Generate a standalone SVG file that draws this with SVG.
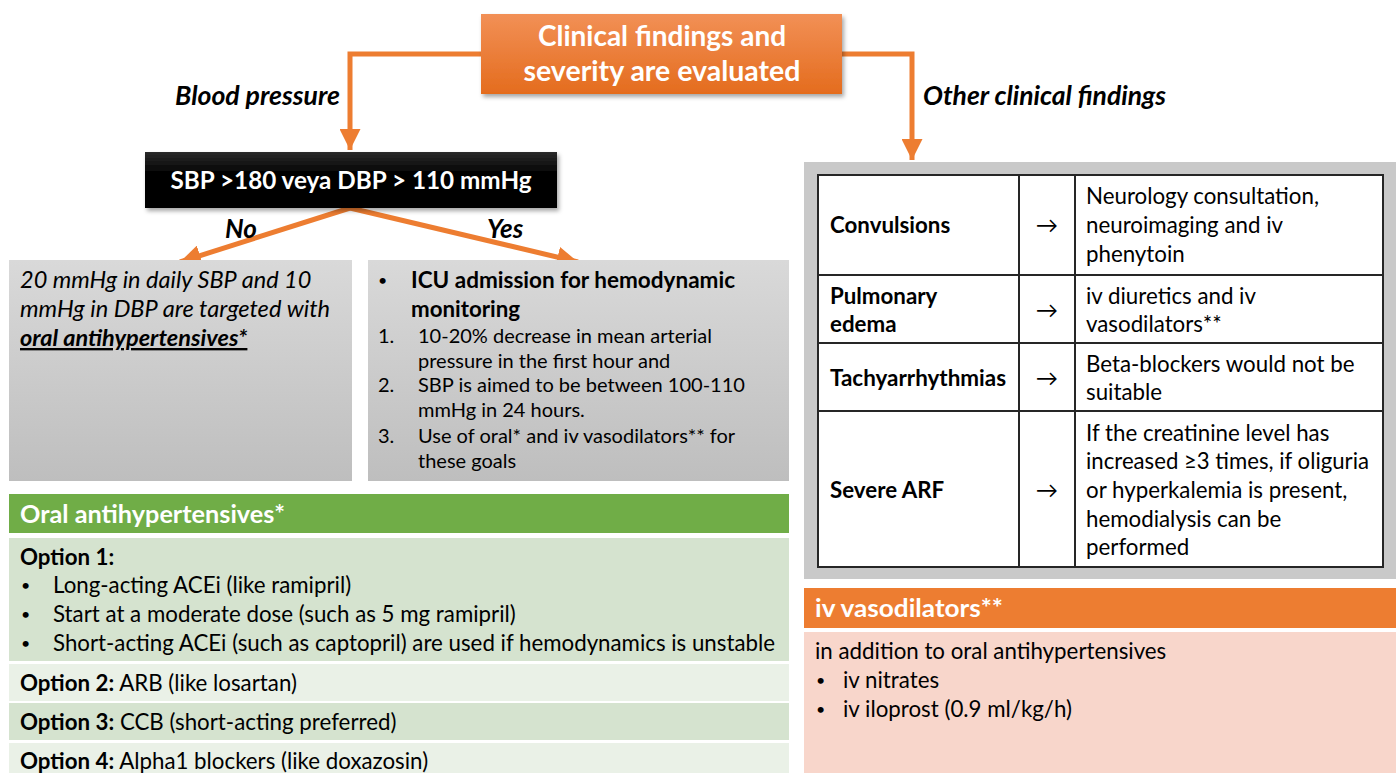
<svg xmlns="http://www.w3.org/2000/svg" width="1397" height="773" viewBox="0 0 1397 773">
  <style>
    text { font-family: Lato, "Open Sans", "Liberation Sans", sans-serif; fill: #000; }
    .w { fill: #fff; }
    .b { font-weight: bold; }
    .i { font-style: italic; }
    .t22 { font-size: 22.3px; }
    .t20 { font-size: 20px; }
    .lbl { font-size: 26px; font-weight: bold; font-style: italic; }
    .it { font-size: 23.5px; font-style: italic; }
    .hd { font-size: 25px; font-weight: bold; fill: #fff; }
    .dot { font-size: 16px; }
    .conn { fill: none; stroke: #ED7D31; stroke-width: 5; }
    .cell { fill: none; stroke: #262626; stroke-width: 2; }
  </style>
  <defs>
    <marker id="ah" viewBox="0 0 10 10" refX="10" refY="5" markerWidth="4.2" markerHeight="4.2" markerUnits="strokeWidth" orient="auto">
      <path d="M0,0 L10,5 L0,10 Z" fill="#ED7D31"/>
    </marker>
    <linearGradient id="gOrange" x1="0" y1="0" x2="0" y2="1">
      <stop offset="0" stop-color="#F29056"/>
      <stop offset="1" stop-color="#E46C1E"/>
    </linearGradient>
    <linearGradient id="gBlack" x1="0" y1="0" x2="0" y2="1">
      <stop offset="0" stop-color="#2b2b2b"/>
      <stop offset="0.4" stop-color="#000"/>
      <stop offset="1" stop-color="#000"/>
    </linearGradient>
    <linearGradient id="gGray" x1="0" y1="0" x2="0" y2="1">
      <stop offset="0" stop-color="#D9D9D9"/>
      <stop offset="1" stop-color="#BEBEBE"/>
    </linearGradient>
    <filter id="shadow" x="-5%" y="-10%" width="112%" height="130%">
      <feDropShadow dx="2" dy="3" stdDeviation="2" flood-color="#000" flood-opacity="0.35"/>
    </filter>
  </defs>

  <!-- connectors -->
  <g id="connectors">
    <path class="conn" d="M481,54 H350 V150" marker-end="url(#ah)"/>
    <path class="conn" d="M842,54 H912 V160" marker-end="url(#ah)"/>
    <path class="conn" d="M350,208 L180,262" marker-end="url(#ah)"/>
    <path class="conn" d="M350,208 L578,262" marker-end="url(#ah)"/>
  </g>

  <!-- edge labels -->
  <g id="labels">
    <text class="lbl" x="175" y="105" textLength="165" lengthAdjust="spacingAndGlyphs">Blood pressure</text>
    <text class="lbl" x="923" y="105" textLength="243" lengthAdjust="spacingAndGlyphs">Other clinical findings</text>
    <text class="lbl" x="225" y="238">No</text>
    <text class="lbl" x="487" y="238">Yes</text>
  </g>

  <!-- start node -->
  <g id="start">
    <rect x="481" y="14" width="361" height="80" fill="url(#gOrange)" filter="url(#shadow)"/>
    <text class="w b" x="662" y="46" font-size="28" text-anchor="middle">Clinical findings and</text>
    <text class="w b" x="662" y="81" font-size="28" text-anchor="middle" textLength="277" lengthAdjust="spacingAndGlyphs">severity are evaluated</text>
  </g>

  <!-- blood pressure decision -->
  <g id="bp-decision">
    <rect x="145" y="152" width="412" height="56" fill="url(#gBlack)" filter="url(#shadow)"/>
    <text class="w b" x="351" y="189" font-size="24" text-anchor="middle" textLength="361" lengthAdjust="spacingAndGlyphs">SBP &gt;180 veya DBP &gt; 110 mmHg</text>
  </g>

  <!-- branch: No -->
  <g id="no-branch">
    <rect x="9" y="260" width="343" height="221" fill="url(#gGray)"/>
    <text class="it" x="20" y="288">20 mmHg in daily SBP and 10</text>
    <text class="it" x="20" y="317" textLength="310" lengthAdjust="spacingAndGlyphs">mmHg in DBP are targeted with</text>
    <text class="it b" x="20" y="346" text-decoration="underline">oral antihypertensives*</text>
  </g>

  <!-- branch: Yes -->
  <g id="yes-branch">
    <rect x="368" y="260" width="421" height="221" fill="url(#gGray)"/>
    <text class="dot" x="378" y="286">•</text>
    <text class="t22 b" x="411" y="288" textLength="324" lengthAdjust="spacingAndGlyphs">ICU admission for hemodynamic</text>
    <text class="t22 b" x="411" y="317">monitoring</text>
    <text class="t20" x="378" y="343">1.</text>
    <text class="t20" x="418" y="343">10-20% decrease in mean arterial</text>
    <text class="t20" x="418" y="368">pressure in the first hour and</text>
    <text class="t20" x="378" y="392">2.</text>
    <text class="t20" x="418" y="392" textLength="327" lengthAdjust="spacingAndGlyphs">SBP is aimed to be between 100-110</text>
    <text class="t20" x="418" y="417">mmHg in 24 hours.</text>
    <text class="t20" x="378" y="443">3.</text>
    <text class="t20" x="418" y="443">Use of oral* and iv vasodilators** for</text>
    <text class="t20" x="418" y="468">these goals</text>
  </g>

  <!-- oral antihypertensives panel -->
  <g id="oral-antihypertensives">
    <rect x="9" y="494" width="780" height="39" fill="#70AD47"/>
    <text class="hd" x="20" y="523" textLength="265" lengthAdjust="spacingAndGlyphs">Oral antihypertensives*</text>
    <rect x="9" y="538" width="780" height="123" fill="#D5E3CF"/>
    <rect x="9" y="664" width="780" height="37" fill="#EAF1E7"/>
    <rect x="9" y="703" width="780" height="37" fill="#D5E3CF"/>
    <rect x="9" y="743" width="780" height="30" fill="#EAF1E7"/>
    <text class="t22 b" x="20" y="565">Option 1:</text>
    <text class="dot" x="21" y="591">•</text>
    <text class="t22" x="53" y="593">Long-acting ACEi (like ramipril)</text>
    <text class="dot" x="21" y="620">•</text>
    <text class="t22" x="53" y="622">Start at a moderate dose (such as 5 mg ramipril)</text>
    <text class="dot" x="21" y="649">•</text>
    <text class="t22" x="53" y="651" textLength="722" lengthAdjust="spacingAndGlyphs">Short-acting ACEi (such as captopril) are used if hemodynamics is unstable</text>
    <text class="t22" x="20" y="691"><tspan class="b">Option 2:</tspan> ARB (like losartan)</text>
    <text class="t22" x="20" y="730"><tspan class="b">Option 3:</tspan> CCB (short-acting preferred)</text>
    <text class="t22" x="20" y="769"><tspan class="b">Option 4:</tspan> Alpha1 blockers (like doxazosin)</text>
  </g>

  <!-- other clinical findings table -->
  <g id="findings-table">
    <rect x="804" y="162" width="592" height="417" fill="#C9C9C9"/>
    <rect x="818" y="175" width="565" height="392" fill="#fff"/>
    <rect class="cell" x="818" y="175" width="565" height="392"/>
    <line class="cell" x1="1019" y1="175" x2="1019" y2="567"/>
    <line class="cell" x1="1075" y1="175" x2="1075" y2="567"/>
    <line class="cell" x1="818" y1="275" x2="1383" y2="275"/>
    <line class="cell" x1="818" y1="343" x2="1383" y2="343"/>
    <line class="cell" x1="818" y1="411" x2="1383" y2="411"/>

    <text class="t22 b" x="830" y="233">Convulsions</text>
    <text class="t22" x="1047" y="233" text-anchor="middle">→</text>
    <text class="t22" x="1086" y="204">Neurology consultation,</text>
    <text class="t22" x="1086" y="233">neuroimaging and iv</text>
    <text class="t22" x="1086" y="262">phenytoin</text>

    <text class="t22 b" x="830" y="304">Pulmonary</text>
    <text class="t22 b" x="830" y="332">edema</text>
    <text class="t22" x="1047" y="318" text-anchor="middle">→</text>
    <text class="t22" x="1086" y="304">iv diuretics and iv</text>
    <text class="t22" x="1086" y="332">vasodilators**</text>

    <text class="t22 b" x="830" y="386" textLength="176" lengthAdjust="spacingAndGlyphs">Tachyarrhythmias</text>
    <text class="t22" x="1047" y="386" text-anchor="middle">→</text>
    <text class="t22" x="1086" y="372">Beta-blockers would not be</text>
    <text class="t22" x="1086" y="400">suitable</text>

    <text class="t22 b" x="830" y="498">Severe ARF</text>
    <text class="t22" x="1047" y="498" text-anchor="middle">→</text>
    <text class="t22" x="1086" y="441">If the creatinine level has</text>
    <text class="t22" x="1086" y="469" textLength="283" lengthAdjust="spacingAndGlyphs">increased ≥3 times, if oliguria</text>
    <text class="t22" x="1086" y="498">or hyperkalemia is present,</text>
    <text class="t22" x="1086" y="527">hemodialysis can be</text>
    <text class="t22" x="1086" y="555">performed</text>
  </g>

  <!-- iv vasodilators panel -->
  <g id="iv-vasodilators">
    <rect x="804" y="588" width="592" height="40" fill="#ED7D31"/>
    <text class="hd" x="815" y="617" textLength="188" lengthAdjust="spacingAndGlyphs">iv vasodilators**</text>
    <rect x="804" y="632" width="592" height="141" fill="#F8D6CB"/>
    <text class="t22" x="815" y="659">in addition to oral antihypertensives</text>
    <text class="dot" x="816" y="686">•</text>
    <text class="t22" x="843" y="688">iv nitrates</text>
    <text class="dot" x="816" y="715">•</text>
    <text class="t22" x="843" y="717">iv iloprost (0.9 ml/kg/h)</text>
  </g>
</svg>
